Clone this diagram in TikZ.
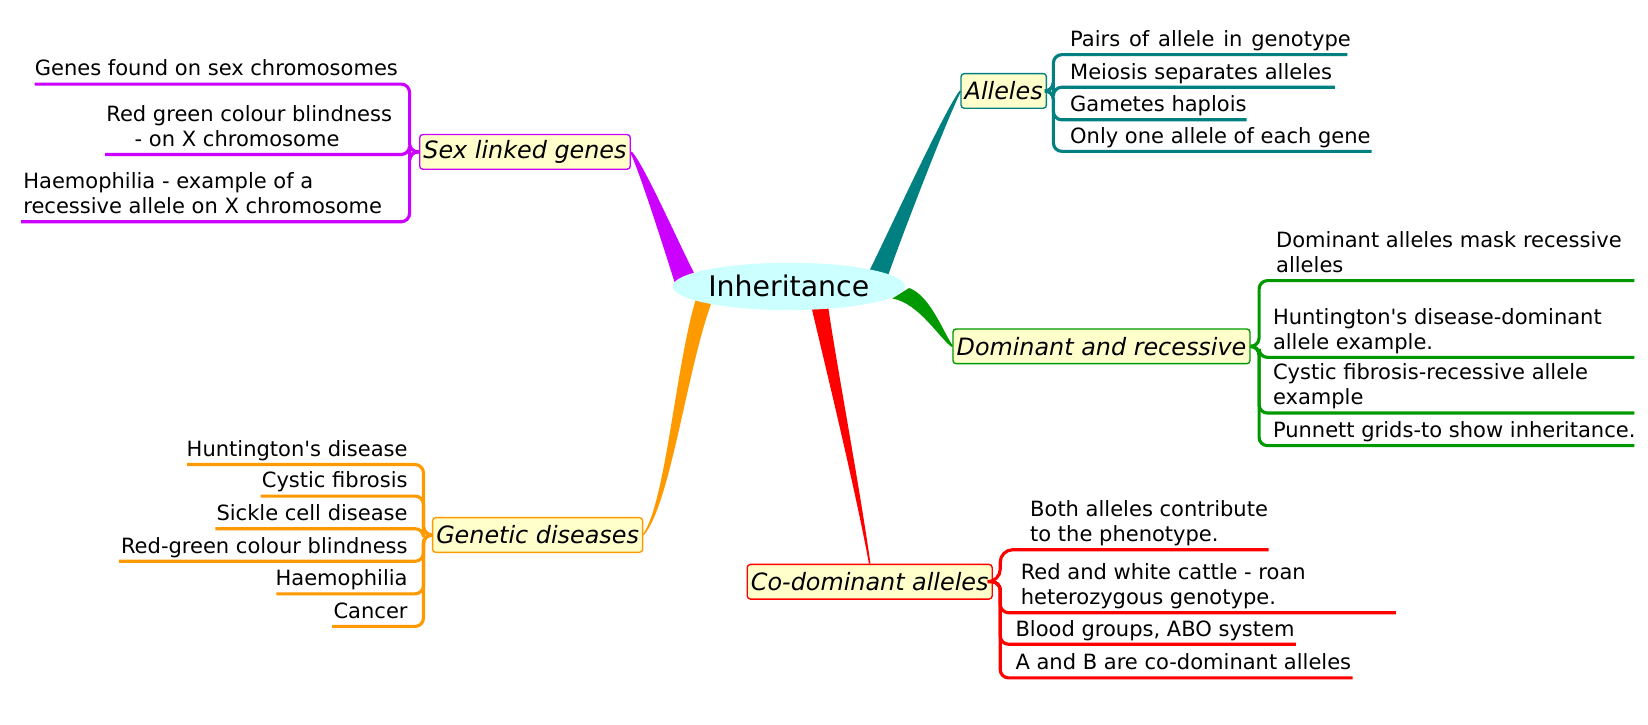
\documentclass[tikz,border=0pt]{standalone}
\usepackage{fontspec}
\setmainfont{DejaVu Sans}
\usetikzlibrary{shapes.geometric,calc,backgrounds}
\definecolor{cteal}{HTML}{008080}
\definecolor{cgreen}{HTML}{009900}
\definecolor{cpurple}{HTML}{CC00FF}
\definecolor{corange}{HTML}{FF9900}
\definecolor{cred}{HTML}{FF0000}
\definecolor{ccyan}{HTML}{CCFFFF}
\definecolor{cyell}{HTML}{FFFFCC}
\newcommand\mytaper[6]{%
  \fill[#1] ($(#2)+(#6)$) .. controls ($(#3)+0.7*(#6)$) and ($(#4)+0.3*(#6)$) .. ($(#5)+0.09*(#6)$)
    -- ($(#5)-0.09*(#6)$) .. controls ($(#4)-0.3*(#6)$) and ($(#3)-0.7*(#6)$) .. ($(#2)-(#6)$) -- cycle;}
\tikzset{
  topic/.style={draw=#1, fill=cyell, rounded corners=3pt, line width=1.3pt,
    inner xsep=3.5pt, inner ysep=0pt, minimum height=33pt,
    font=\fontsize{22.7}{27}\selectfont\itshape},
  leaf/.style={inner sep=0pt, text depth=0pt, font=\fontsize{20}{24}\selectfont},
  branch/.style={draw=#1, line width=3pt, rounded corners=8pt},
}
\begin{document}
\begin{tikzpicture}[x=1pt,y=-1pt]
\useasboundingbox (0,0) rectangle (1568,689);
% central
\node[ellipse, fill=ccyan, inner sep=0pt, minimum width=221pt, minimum height=45pt,
  font=\fontsize{27}{30}\selectfont] (inh) at (750.5,272.5) {Inheritance};
% main topics
\node[topic=cteal] (all) at (955,86.5) {Alleles};
\node[topic=cgreen] (dom) at (1048,329.5) {Dominant and recessive};
\node[topic=cpurple] (sex) at (499.5,144.5) {Sex linked genes};
\node[topic=corange] (gen) at (511.5,509) {Genetic diseases};
\node[topic=cred] (cod) at (827.5,553.5) {Co-dominant alleles};
% thick ends of the main connectors
\coordinate (qa) at (835,262);
\coordinate (qd) at (857,279);
\coordinate (qs) at (652,266);
\coordinate (qg) at (670,285);
\coordinate (qc) at (780,292);
\begin{scope}[on background layer]
  \mytaper{cteal}{qa}{852,222}{900,108}{all.west}{10,0}
  \mytaper{cgreen}{qd}{880,285}{896,320}{dom.west}{8,-5}
  \mytaper{cpurple}{qs}{638,232}{610,158}{sex.east}{10,-3}
  \mytaper{corange}{qg}{648,350}{636,478}{gen.east}{8,0}
  \mytaper{cred}{qc}{790,345}{815,460}{cod.north}{8,0}
\end{scope}
% Alleles children
\node[leaf, anchor=south west] (a1) at (1018,44.5) {\makebox[267pt][s]{Pairs of allele in genotype}};
\node[leaf, anchor=south west] (a2) at (1018,75.5) {Meiosis separates alleles};
\node[leaf, anchor=south west] (a3) at (1018,106.5) {Gametes haplois};
\node[leaf, anchor=south west] (a4) at (1018,136.5) {Only one allele of each gene};
\coordinate (a1e) at (1282,52);
\coordinate (a2e) at (1270,83);
\coordinate (a3e) at (1186,114);
\coordinate (a4e) at (1305,144);
\foreach \e in {a1e,a2e,a3e,a4e}
  \draw[branch=cteal] (all.east) -- ++(6,0) |- (\e);
% Dominant children
\node[leaf, anchor=south west, align=left] (d1) at (1214,259.5) {Dominant alleles mask recessive\\alleles};
\node[leaf, anchor=south west, align=left] (d2) at (1211,332.5) {Huntington\textquotesingle s disease-dominant\\allele example.};
\node[leaf, anchor=south west, align=left] (d3) at (1211,385.5) {Cystic fibrosis-recessive allele\\example};
\node[leaf, anchor=south west] (d4) at (1211,416.5) {Punnett grids-to show inheritance.};
\coordinate (d1e) at (1555,267);
\coordinate (d2e) at (1555,340);
\coordinate (d3e) at (1555,393);
\coordinate (d4e) at (1555,424);
\foreach \e in {d1e,d2e,d3e,d4e}
  \draw[branch=cgreen] (dom.east) -- ++(8,0) |- (\e);
% Co-dominant children
\node[leaf, anchor=south west, align=left] (c1) at (980,515.5) {Both alleles contribute\\to the phenotype.};
\node[leaf, anchor=south west, align=left] (c2) at (971,575.5) {Red and white cattle - roan\\heterozygous genotype.};
\node[leaf, anchor=south west] (c3) at (966,605.5) {Blood groups, ABO system};
\node[leaf, anchor=south west] (c4) at (966,637.5) {A and B are co-dominant alleles};
\coordinate (c1e) at (1207,523);
\coordinate (c2e) at (1328,583);
\coordinate (c3e) at (1233,613);
\coordinate (c4e) at (1287,645);
\draw[branch=cred, rounded corners=12pt] (cod.east) -- ++(7,0) |- (c1e);
\foreach \e in {c2e,c3e,c4e}
  \draw[branch=cred] (cod.east) -- ++(7,0) |- (\e);
% Sex linked children
\node[leaf, anchor=south west] (s1) at (33,72.5) {Genes found on sex chromosomes};
\node[leaf, anchor=south west, align=left] (s2) at (101,139.5) {Red green colour blindness\\\hspace*{27pt}- on X chromosome};
\node[leaf, anchor=south west, align=left] (s3) at (22,203.5) {Haemophilia - example of a\\recessive allele on X chromosome};
\coordinate (s1e) at (33,80);
\coordinate (s2e) at (100,147);
\coordinate (s3e) at (20,211);
\foreach \e in {s1e,s2e,s3e}
  \draw[branch=cpurple] (sex.west) -- ++(-9,0) |- (\e);
% Genetic diseases children
\node[leaf, anchor=south east] (g1) at (388,434.5) {Huntington\textquotesingle s disease};
\node[leaf, anchor=south east] (g2) at (388,464.5) {Cystic fibrosis};
\node[leaf, anchor=south east] (g3) at (388,495.5) {Sickle cell disease};
\node[leaf, anchor=south east] (g4) at (388,526.5) {Red-green colour blindness};
\node[leaf, anchor=south east] (g5) at (388,557.5) {Haemophilia};
\node[leaf, anchor=south east] (g6) at (388,588.5) {Cancer};
\coordinate (g1e) at (178,442);
\coordinate (g2e) at (248,472);
\coordinate (g3e) at (205,503);
\coordinate (g4e) at (113,534);
\coordinate (g5e) at (263,565);
\coordinate (g6e) at (316,596);
\foreach \e in {g1e,g2e,g3e,g4e,g5e,g6e}
  \draw[branch=corange] (gen.west) -- ++(-8,0) |- (\e);
\end{tikzpicture}
\end{document}
